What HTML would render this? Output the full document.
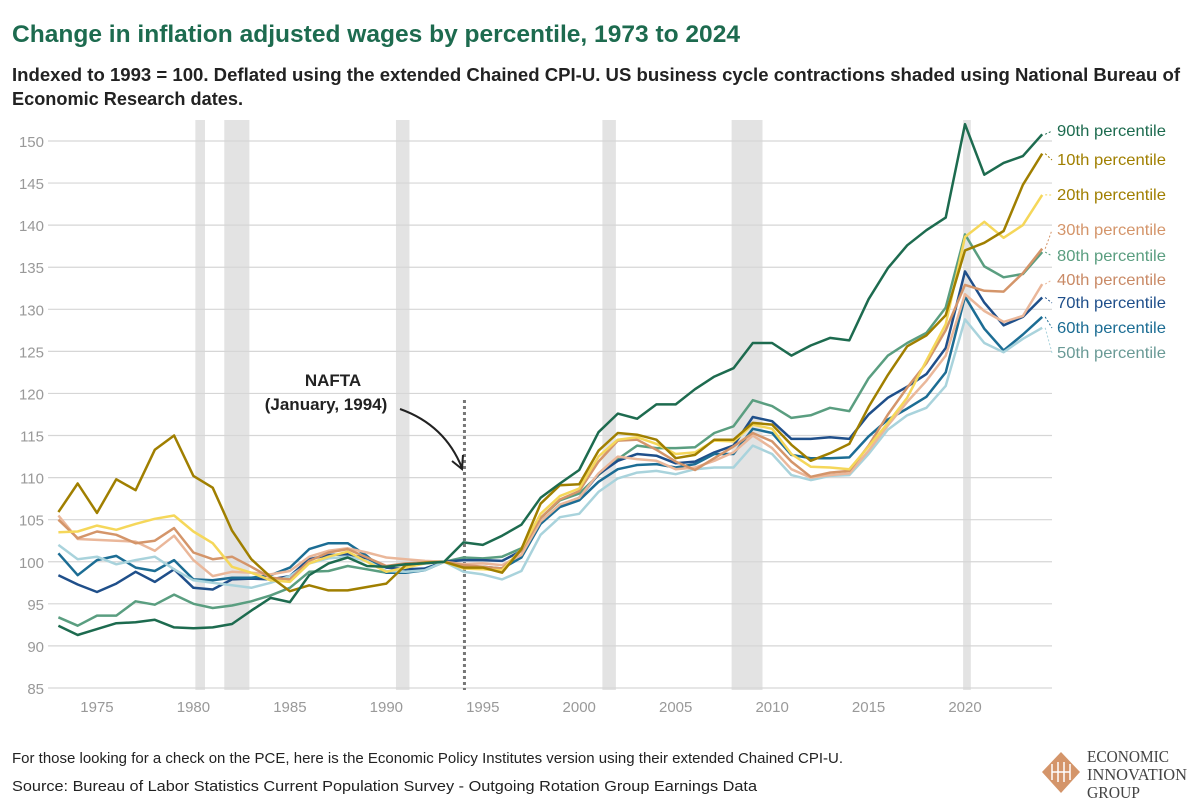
<!DOCTYPE html>
<html><head><meta charset="utf-8"><style>
body{margin:0;background:#fff;width:1200px;height:809px;overflow:hidden;font-family:"Liberation Sans",sans-serif}
svg{position:absolute;left:0;top:0}
</style></head><body>
<svg width="1200" height="809">
<text x="12" y="42" font-size="24" font-weight="bold" fill="#1d6b4f" textLength="728" lengthAdjust="spacingAndGlyphs">Change in inflation adjusted wages by percentile, 1973 to 2024</text>
<text x="12" y="81" font-size="18" font-weight="bold" fill="#222" textLength="1168" lengthAdjust="spacingAndGlyphs">Indexed to 1993 = 100. Deflated using the extended Chained CPI-U. US business cycle contractions shaded using National Bureau of</text>
<text x="12" y="105" font-size="18" font-weight="bold" fill="#222" textLength="231" lengthAdjust="spacingAndGlyphs">Economic Research dates.</text>
<g id="plot"></g>
<text x="12" y="763" font-size="15" fill="#222" textLength="831" lengthAdjust="spacingAndGlyphs">For those looking for a check on the PCE, here is the Economic Policy Institutes version using their extended Chained CPI-U.</text>
<text x="12" y="791" font-size="15" fill="#222" textLength="745" lengthAdjust="spacingAndGlyphs">Source: Bureau of Labor Statistics Current Population Survey - Outgoing Rotation Group Earnings Data</text>
<g>
<polygon points="1061,752 1080,772 1061,793 1042,772" fill="#d4956a"/>
<path d="M1052,764 v16 M1052,772 h18 M1058,762 v20 M1064,762 v20 M1070,764 v16" stroke="#fff" stroke-width="1.5" fill="none"/>
<text x="1087" y="762" font-family="Liberation Serif,serif" font-size="17" fill="#444" textLength="82" lengthAdjust="spacingAndGlyphs">ECONOMIC</text>
<text x="1087" y="780" font-family="Liberation Serif,serif" font-size="17" fill="#444" textLength="100" lengthAdjust="spacingAndGlyphs">INNOVATION</text>
<text x="1087" y="798" font-family="Liberation Serif,serif" font-size="17" fill="#444" textLength="53" lengthAdjust="spacingAndGlyphs">GROUP</text>
</g>
</svg>
<script>
const years=[];for(let y=1973;y<=2024;y++)years.push(y);
const yTicks=[85,90,95,100,105,110,115,120,125,130,135,140,145,150];
const xTicks=[1975,1980,1985,1990,1995,2000,2005,2010,2015,2020];
const recessions=[[1980.1,1980.6],[1981.6,1982.9],[1990.5,1991.2],[2001.2,2001.9],[2007.9,2009.5],[2019.9,2020.3]];
const p90=[92.4,91.3,92.0,92.7,92.8,93.1,92.2,92.1,92.2,92.6,94.2,95.7,95.2,98.4,99.8,100.5,99.5,99.4,99.7,99.8,100,102.3,102,103.1,104.4,107.6,109.3,110.9,115.4,117.6,117,118.7,118.7,120.5,122,123,126,126,124.5,125.7,126.6,126.3,131.2,134.9,137.6,139.4,140.9,152,146,147.4,148.2,150.8];
const p10=[105.9,109.3,105.8,109.8,108.5,113.3,115,110.2,108.8,103.7,100.3,98.2,96.5,97.2,96.6,96.6,97,97.4,99.6,99.9,100,99.3,99.3,98.7,101.5,106.9,109.1,109.2,113.2,115.3,115.1,114.5,112.3,112.7,114.5,114.5,116.5,116.3,113.9,112,112.9,114,118.4,122.2,125.6,126.9,129.3,137,137.9,139.3,144.8,148.5];
const p20=[103.5,103.6,104.3,103.8,104.5,105.1,105.5,103.6,102.2,99.4,98.7,97.8,97.6,99.8,100.6,101.2,100,98.8,99.3,99.8,100,99.2,99.1,99,101.5,105.7,107.8,108.7,112.5,114.5,114.8,114,112.8,113,114.4,114.3,116.3,115.8,112.8,111.3,111.2,111,113.7,116.5,119.5,123.9,128.2,138.6,140.4,138.5,140,143.6];
const p30=[105,102.8,103.6,103.2,102.2,102.5,104,101.1,100.3,100.6,99.4,98.1,97.9,100.1,101.1,101.5,100.5,99.5,99.8,99.9,100,99.6,99.4,99.2,101.3,105.2,107.4,108.4,111.9,114.4,114.5,113.3,111.9,110.9,112.3,113.7,115.3,114.3,111.9,110.1,110.6,110.8,113.8,117.5,120.7,123.6,127.5,132.9,132.2,132.1,134.3,137.2];
const p40=[105.5,102.7,102.6,102.5,102.4,101.3,103.1,100.2,98.3,98.8,98.7,98.5,98.9,100.6,101.3,101.6,101.1,100.5,100.3,100.1,100,99.7,99.8,99.6,100.8,104.8,106.8,107.6,110.5,112.5,112.2,112,111,111.2,112,113,115,113.5,111,110,110.3,110.5,113.2,116.2,119,121.5,124.5,131.8,129.8,128.5,129.2,133];
const p50=[102,100.3,100.6,99.7,100.2,100.6,99.1,97.8,97.5,97.2,96.9,97.5,98.3,99.8,100.4,100.6,100.1,98.9,98.8,99,100,98.8,98.5,97.9,98.9,103.2,105.3,105.7,108.3,109.9,110.6,110.8,110.4,111,111.2,111.2,113.8,112.8,110.3,109.7,110.2,110.3,112.8,115.7,117.4,118.3,120.9,128.8,126,124.9,126.5,127.8];
const p60=[101,98.4,100.2,100.7,99.3,98.9,100.2,97.9,97.8,98.1,98.1,98.4,99.3,101.5,102.2,102.2,100.7,98.7,98.7,99,100,99.4,99.4,99.2,100.5,104.5,106.5,107.3,109.5,111,111.5,111.6,111.2,111.6,112.8,112.8,115.8,115.3,112.7,112.3,112.3,112.4,114.9,116.9,118.2,119.6,122.5,131.5,127.7,125.1,127,129.1];
const p70=[98.4,97.3,96.4,97.4,98.8,97.6,99.1,96.9,96.7,97.9,98,97.9,98.3,100.3,100.8,100.9,100.4,99.3,99.1,99.2,100,100.2,100.2,100.1,101.3,104.8,106.7,107.6,110.4,112,112.8,112.6,111.7,111.9,113,113.8,117.2,116.7,114.6,114.6,114.8,114.6,117.5,119.5,120.8,122.3,125.4,134.5,130.8,128.1,129.1,131.4];
const p80=[93.4,92.4,93.6,93.6,95.3,94.9,96.1,95,94.5,94.8,95.3,96,96.9,98.8,98.9,99.5,99.1,98.7,98.8,99.2,100,100.5,100.4,100.6,101.6,105.2,107.3,108.1,110.3,112.2,113.8,113.5,113.5,113.6,115.3,116.1,119.2,118.5,117.1,117.4,118.3,117.9,121.8,124.5,126,127.2,130.2,138.9,135.1,133.8,134.2,136.8];
const seriesNames=["80th","70th","60th","50th","40th","30th","20th","10th","90th"];
const seriesVals=[p80,p70,p60,p50,p40,p30,p20,p10,p90];
const colors=["#5a9e80","#1f4f8a","#1c6d94","#a9d3dc","#eab79a","#d4956a","#f5d75a","#a07f00","#1d6b4f"];
const labelY=[261,308,333,358,285,235,200,165,136];

const X=y=>58.4+(y-1973)*19.29;
const Y=v=>141+(150-v)*8.415;
const NS="http://www.w3.org/2000/svg";
const g=document.getElementById('plot');
function mk(t,a){const e=document.createElementNS(NS,t);for(const k in a)e.setAttribute(k,a[k]);g.appendChild(e);return e;}
recessions.forEach(r=>{const e=mk('rect',{x:X(r[0]),y:120,width:X(r[1])-X(r[0]),height:570,fill:'#e3e3e3'});

});
yTicks.forEach(t=>{const l=mk('line',{x1:48,x2:1052,y1:Y(t),y2:Y(t),stroke:'#d6d6d6','stroke-width':1.2});


const tx=mk('text',{x:44,y:Y(t)+6,'text-anchor':'end','font-size':15,fill:'#999'});tx.textContent=t;

});
xTicks.forEach(t=>{const tx=mk('text',{x:X(t),y:712,'text-anchor':'middle','font-size':15,fill:'#999'});tx.textContent=t;

});
const nl=mk('line',{x1:X(1994.05),x2:X(1994.05),y1:400,y2:690,stroke:'#777','stroke-width':3,'stroke-dasharray':'3,3'});


seriesVals.forEach((s,i)=>{const d=s.map((v,j)=>(j?'L':'M')+X(years[j]).toFixed(1)+','+Y(v).toFixed(1)).join('');
const p=mk('path',{d:d,fill:'none',stroke:colors[i],'stroke-width':2.5,'stroke-linejoin':'round'});


const ex=X(2024),ey=Y(s[s.length-1]);
const ld=mk('line',{x1:ex+3,y1:ey,x2:1052,y2:labelY[i]-5,stroke:colors[i],'stroke-width':1,'stroke-dasharray':'2,2'});


const t=mk('text',{x:1057,y:labelY[i],'font-size':16,textLength:109,lengthAdjust:'spacingAndGlyphs',fill:colors[i]==='#f5d75a'?'#a07f00':(colors[i]==='#a9d3dc'?'#6a9a96':(colors[i]==='#eab79a'?'#c98a66':colors[i]))});
t.textContent=seriesNames[i]+' percentile';

});
const a1=mk('text',{x:333,y:386,'text-anchor':'middle','font-size':17,'font-weight':'bold',fill:'#222'});a1.textContent='NAFTA';


const a2=mk('text',{x:326,y:410,'text-anchor':'middle','font-size':17,'font-weight':'bold',fill:'#222'});a2.textContent='(January, 1994)';


const ar=mk('path',{d:'M400,409 Q445,425 462,468 M452,461 L462,469 L463,455',fill:'none',stroke:'#222','stroke-width':2});


</script>
</body></html>
